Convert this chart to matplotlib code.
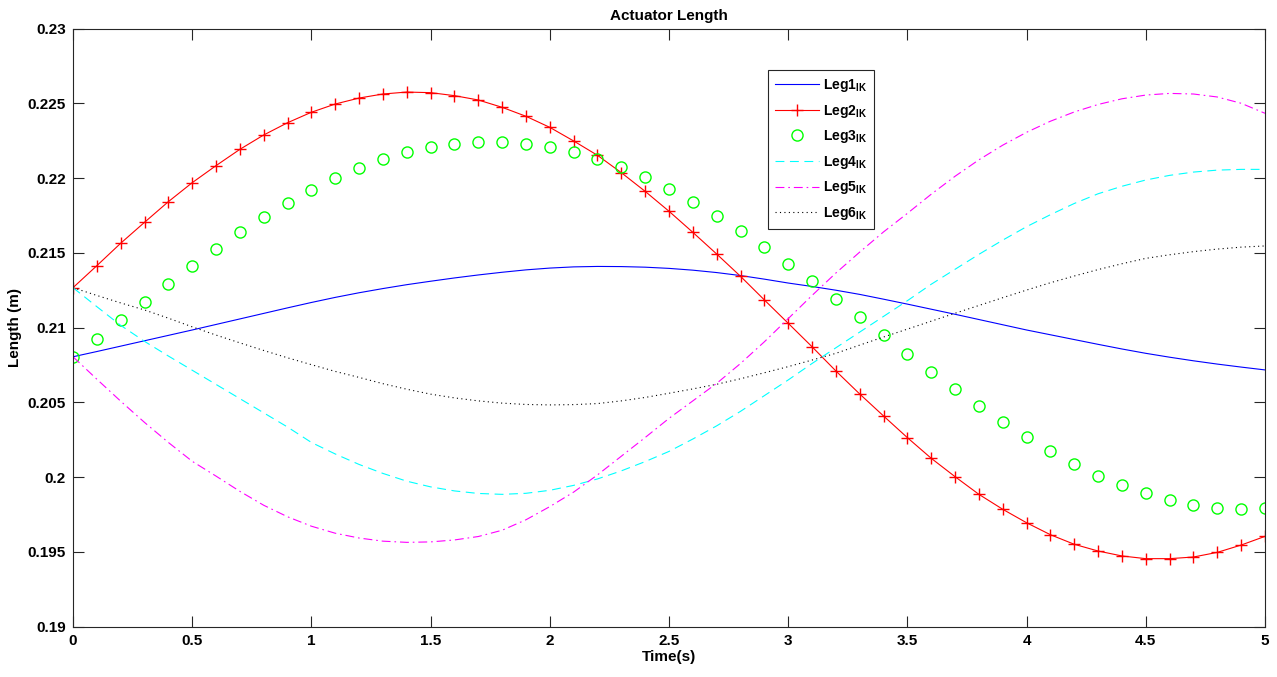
import numpy as np
import matplotlib
matplotlib.use("Agg")
import matplotlib.pyplot as plt

plt.rcParams['font.family'] = ['Liberation Sans', 'DejaVu Sans']
plt.rcParams['font.weight'] = 'bold'
plt.rcParams['mathtext.fontset'] = 'custom'
plt.rcParams['mathtext.rm'] = 'Liberation Sans:bold'
plt.rcParams['mathtext.bf'] = 'Liberation Sans:bold'

# zaman ekseni (s)
time = [round(0.1 * i, 1) for i in range(51)]

leg1 = [0.20805, 0.20840, 0.20876, 0.20912, 0.20948, 0.20984, 0.21021, 0.21058, 0.21095, 0.21132,
        0.21168, 0.21202, 0.21233, 0.21261, 0.21287, 0.21310, 0.21332, 0.21352, 0.21370, 0.21386,
        0.21398, 0.21406, 0.21409, 0.21408, 0.21404, 0.21396, 0.21384, 0.21368, 0.21348, 0.21324,
        0.21298, 0.21275, 0.21250, 0.21222, 0.21190, 0.21157, 0.21123, 0.21089, 0.21054, 0.21019,
        0.20984, 0.20952, 0.20920, 0.20888, 0.20857, 0.20828, 0.20802, 0.20778, 0.20756, 0.20736,
        0.20717]

leg2 = [0.21267, 0.21414, 0.21564, 0.21704, 0.21842, 0.21969, 0.22083, 0.22192, 0.22288, 0.22370,
        0.22440, 0.22495, 0.22535, 0.22562, 0.22575, 0.22571, 0.22551, 0.22522, 0.22473, 0.22413,
        0.22339, 0.22248, 0.22152, 0.22036, 0.21911, 0.21778, 0.21637, 0.21492, 0.21343, 0.21185,
        0.21029, 0.20872, 0.20710, 0.20556, 0.20409, 0.20264, 0.20126, 0.20003, 0.19885, 0.19785,
        0.19695, 0.19615, 0.19551, 0.19506, 0.19473, 0.19455, 0.19455, 0.19466, 0.19497, 0.19546,
        0.19604]

leg3 = [0.20805, 0.20924, 0.21049, 0.21173, 0.21294, 0.21414, 0.21528, 0.21637, 0.21738, 0.21835,
        0.21920, 0.21998, 0.22067, 0.22125, 0.22172, 0.22208, 0.22230, 0.22241, 0.22241, 0.22230,
        0.22208, 0.22172, 0.22129, 0.22072, 0.22005, 0.21927, 0.21842, 0.21748, 0.21648, 0.21541,
        0.21427, 0.21312, 0.21191, 0.21069, 0.20949, 0.20826, 0.20705, 0.20587, 0.20474, 0.20367,
        0.20266, 0.20173, 0.20086, 0.20010, 0.19946, 0.19892, 0.19847, 0.19816, 0.19796, 0.19787,
        0.19794]

leg4 = [0.21267, 0.21140, 0.21015, 0.20908, 0.20810, 0.20715, 0.20620, 0.20525, 0.20430, 0.20335,
        0.20232, 0.20155, 0.20085, 0.20025, 0.19973, 0.19935, 0.19908, 0.19891, 0.19885, 0.19892,
        0.19912, 0.19945, 0.19988, 0.20042, 0.20104, 0.20172, 0.20255, 0.20343, 0.20440, 0.20545,
        0.20650, 0.20760, 0.20865, 0.20970, 0.21075, 0.21180, 0.21290, 0.21390, 0.21490, 0.21585,
        0.21675, 0.21755, 0.21830, 0.21895, 0.21945, 0.21987, 0.22018, 0.22040, 0.22053, 0.22058,
        0.22058]

leg5 = [0.20805, 0.20655, 0.20508, 0.20366, 0.20232, 0.20106, 0.20007, 0.19905, 0.19812, 0.19735,
        0.19672, 0.19625, 0.19593, 0.19572, 0.19564, 0.19567, 0.19580, 0.19603, 0.19645, 0.19715,
        0.19803, 0.19900, 0.20015, 0.20140, 0.20265, 0.20393, 0.20510, 0.20627, 0.20760, 0.20905,
        0.21060, 0.21215, 0.21365, 0.21505, 0.21640, 0.21764, 0.21892, 0.22012, 0.22122, 0.22220,
        0.22306, 0.22380, 0.22442, 0.22492, 0.22530, 0.22555, 0.22566, 0.22562, 0.22542, 0.22500,
        0.22433]

leg6 = [0.21267, 0.21215, 0.21165, 0.21118, 0.21063, 0.21005, 0.20950, 0.20898, 0.20847, 0.20798,
        0.20752, 0.20707, 0.20667, 0.20625, 0.20588, 0.20555, 0.20530, 0.20510, 0.20495, 0.20486,
        0.20483, 0.20485, 0.20492, 0.20510, 0.20533, 0.20561, 0.20590, 0.20621, 0.20658, 0.20698,
        0.20739, 0.20783, 0.20828, 0.20883, 0.20937, 0.20990, 0.21043, 0.21096, 0.21148, 0.21200,
        0.21251, 0.21300, 0.21345, 0.21388, 0.21427, 0.21463, 0.21487, 0.21508, 0.21525, 0.21538,
        0.21546]

labels = [r'Leg%d$_{\mathbf{IK}}$' % i for i in range(1, 7)]
xticks = [0, 0.5, 1, 1.5, 2, 2.5, 3, 3.5, 4, 4.5, 5]
yticks = [0.19, 0.195, 0.2, 0.205, 0.21, 0.215, 0.22, 0.225, 0.23]

fig = plt.figure(figsize=(12.77, 6.77), dpi=100)
ax = fig.add_axes([73 / 1277, 1 - 626.7 / 677, (1265 - 73) / 1277, (626.7 - 28.5) / 677])

lw = 0.8
ax.plot(time, leg1, '-', color='blue', lw=lw, label=labels[0])
ax.plot(time, leg2, '-+', color='red', lw=lw, ms=9, mew=1.0, label=labels[1])
ax.plot(time, leg3, 'o', color='#00ff00', ms=8, mfc='none', mew=1.0, label=labels[2])
ax.plot(time, leg4, '--', color='cyan', lw=lw, dashes=(8, 5), label=labels[3])
ax.plot(time, leg5, '-.', color='magenta', lw=lw, dashes=(8, 3.5, 1.5, 3.5), label=labels[4])
ax.plot(time, leg6, ':', color='black', lw=lw, dashes=(1, 3), label=labels[5])

ax.set_xlim(0, 5)
ax.set_ylim(0.19, 0.23)
ax.set_xticks(xticks)
ax.set_xticklabels(['%g' % v for v in xticks])
ax.set_yticks(yticks)
ax.set_yticklabels(['%g' % v for v in yticks])
ax.tick_params(direction='in', length=8, width=0.8, color='#262626', labelsize=11,
               top=True, right=True, pad=5)
for s in ax.spines.values():
    s.set_color('#262626')
    s.set_linewidth(0.8)

ax.set_title('Actuator Length', fontsize=11, fontweight='bold', pad=6)
ax.set_xlabel('Time(s)', fontsize=11, fontweight='bold', labelpad=2)
ax.set_ylabel('Length (m)', fontsize=11, fontweight='bold', labelpad=4)

leg = ax.legend(loc='upper left', bbox_to_anchor=(768 / 1277, 1 - 70 / 677),
                bbox_transform=fig.transFigure, borderaxespad=0, fancybox=False,
                edgecolor='#262626', framealpha=1, fontsize=10, handlelength=3.2,
                handletextpad=0.25, labelspacing=0.62, borderpad=0.5)
leg.get_frame().set_linewidth(0.8)

fig.savefig('out.png', dpi=100)
